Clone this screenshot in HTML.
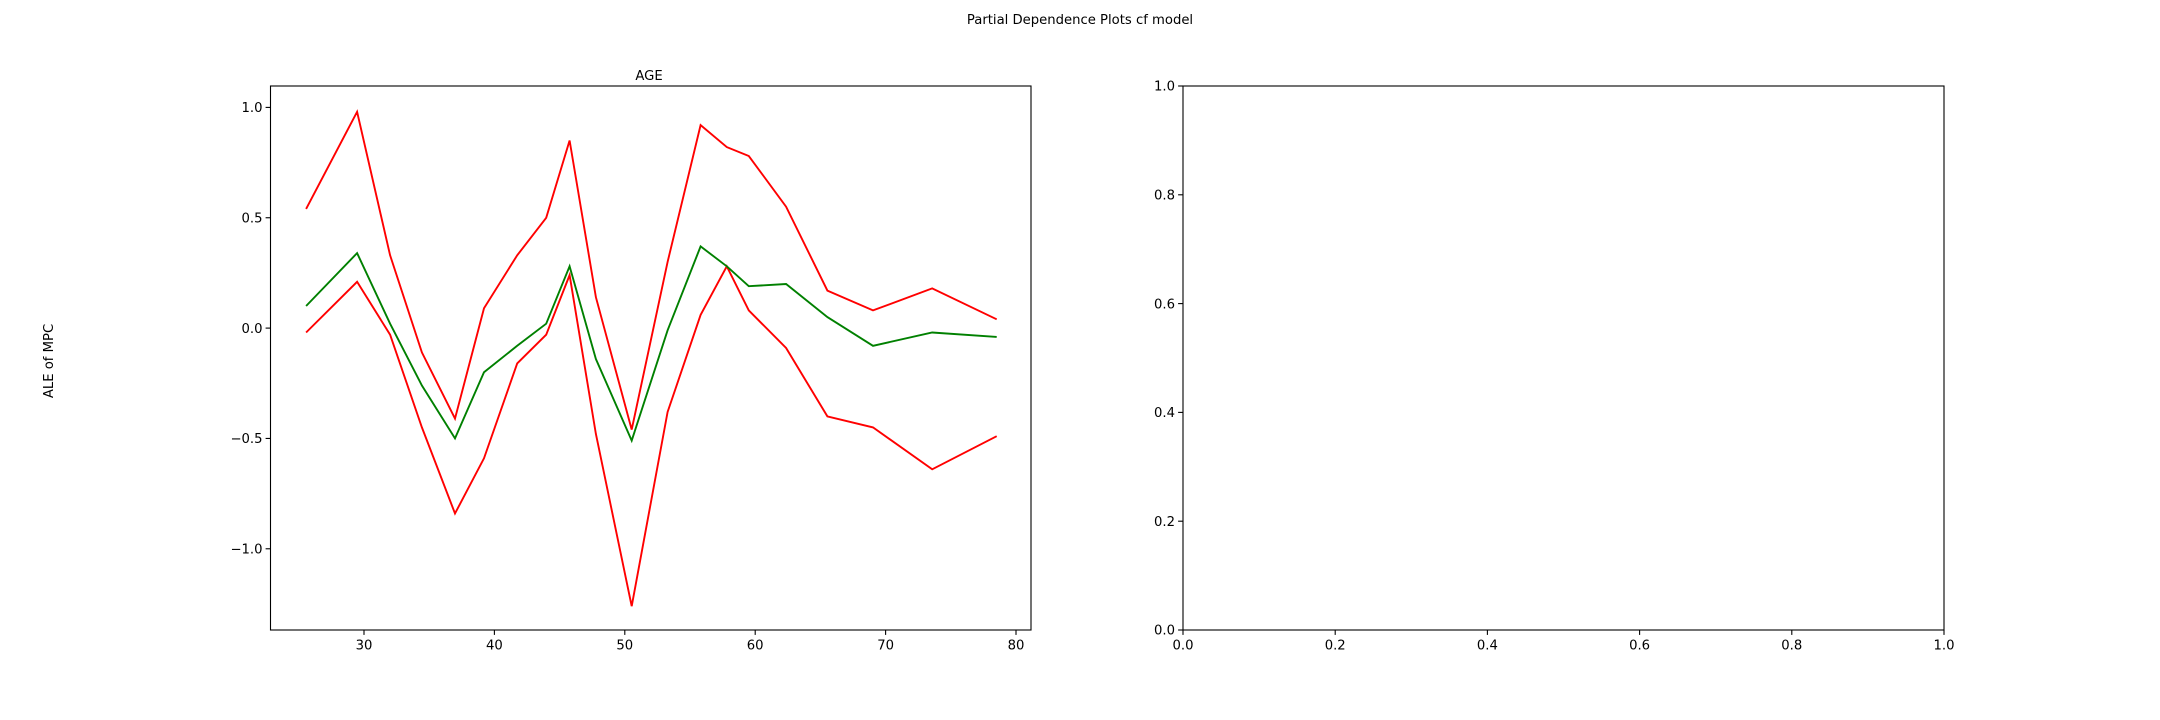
<!DOCTYPE html>
<html><head><meta charset="utf-8"><style>
html,body{margin:0;padding:0;background:#fff;}
svg{display:block;font-family:"DejaVu Sans","Liberation Sans",sans-serif;}
</style></head><body>
<svg id="fig" width="2160" height="720" viewBox="0 0 2160 720" xmlns="http://www.w3.org/2000/svg">
<rect width="2160" height="720" fill="#fff"/>
<text x="1080" y="24" text-anchor="middle" font-size="13.2">Partial Dependence Plots cf model</text>
<text x="649" y="80" text-anchor="middle" font-size="13.2">AGE</text>
<text transform="translate(53,361) rotate(-90)" text-anchor="middle" font-size="13.2">ALE of MPC</text>
<g id="left"></g>
<g id="right"></g>
</svg>
<script>
const ageX = [25.56,29.47,32.0,34.44,36.98,39.2,41.75,43.97,45.77,47.78,50.53,53.28,55.81,57.82,59.51,62.37,65.54,69.03,73.57,78.52];
const upperCI = [0.54,0.98,0.33,-0.11,-0.41,0.09,0.33,0.50,0.85,0.14,-0.46,0.30,0.92,0.82,0.78,0.55,0.17,0.08,0.18,0.04];
const aleMean = [0.10,0.34,0.02,-0.26,-0.50,-0.20,-0.08,0.02,0.28,-0.14,-0.51,-0.01,0.37,0.28,0.19,0.20,0.05,-0.08,-0.02,-0.04];
const lowerCI = [-0.02,0.21,-0.03,-0.45,-0.84,-0.59,-0.16,-0.03,0.24,-0.48,-1.26,-0.38,0.06,0.28,0.08,-0.09,-0.40,-0.45,-0.64,-0.49];
const leftXTicks = [30,40,50,60,70,80];
const leftYTicks = [1.0,0.5,0.0,-0.5,-1.0];
const leftYTickLabels = ["1.0","0.5","0.0","\u22120.5","\u22121.0"];
const rightTicks = [0.0,0.2,0.4,0.6,0.8,1.0];
const rightTickLabels = ["0.0","0.2","0.4","0.6","0.8","1.0"];

const NS="http://www.w3.org/2000/svg";
function mk(tag,attrs,parent){const e=document.createElementNS(NS,tag);for(const k in attrs)e.setAttribute(k,attrs[k]);parent.appendChild(e);return e;}

const FS=13.2;
const L={x0:270.5,x1:1031,y0:86,y1:630,xmin:22.83,xmax:81.15,ymin:-1.368,ymax:1.097};
const lx=v=>L.x0+(v-L.xmin)/(L.xmax-L.xmin)*(L.x1-L.x0);
const ly=v=>L.y1-(v-L.ymin)/(L.ymax-L.ymin)*(L.y1-L.y0);
const lg=document.getElementById('left');
function series(vals,color,name){
  const p=mk('polyline',{points:vals.map((v,i)=>lx(ageX[i]).toFixed(1)+','+ly(v).toFixed(1)).join(' '),fill:'none',stroke:color,'stroke-width':1.9,'stroke-linejoin':'miter'},lg);
  
  
}
series(upperCI,'#ff0000','upper-ci-line');
series(lowerCI,'#ff0000','lower-ci-line');
series(aleMean,'#008000','ale-mean-line');
const lf=mk('rect',{x:L.x0,y:L.y0,width:L.x1-L.x0,height:L.y1-L.y0,fill:'none',stroke:'#000','stroke-width':1.1},lg);


leftXTicks.forEach(t=>{
  const x=lx(t);
  const tk=mk('line',{x1:x,x2:x,y1:L.y1,y2:L.y1+4.9,stroke:'#000','stroke-width':1.1},lg);
  
  
  const tx=mk('text',{x:x,y:L.y1+19.5,'text-anchor':'middle','font-size':FS},lg);
  
  
  tx.textContent=t;
});
leftYTicks.forEach((t,i)=>{
  const y=ly(t);
  const tk=mk('line',{x1:L.x0-4.9,x2:L.x0,y1:y,y2:y,stroke:'#000','stroke-width':1.1},lg);
  
  
  const tx=mk('text',{x:L.x0-8,y:y+4.7,'text-anchor':'end','font-size':FS},lg);
  
  
  tx.textContent=leftYTickLabels[i];
});

const R={x0:1183,x1:1944,y0:86,y1:630};
const rg=document.getElementById('right');
const rf=mk('rect',{x:R.x0,y:R.y0,width:R.x1-R.x0,height:R.y1-R.y0,fill:'none',stroke:'#000','stroke-width':1.1},rg);


rightTicks.forEach((t,i)=>{
  const x=R.x0+t*(R.x1-R.x0), y=R.y1-t*(R.y1-R.y0);
  const a=mk('line',{x1:x,x2:x,y1:R.y1,y2:R.y1+4.9,stroke:'#000','stroke-width':1.1},rg);
  
  
  const at=mk('text',{x:x,y:R.y1+19.5,'text-anchor':'middle','font-size':FS},rg);
  
  
  at.textContent=rightTickLabels[i];
  const b=mk('line',{x1:R.x0-4.9,x2:R.x0,y1:y,y2:y,stroke:'#000','stroke-width':1.1},rg);
  
  
  const bt=mk('text',{x:R.x0-8,y:y+4.7,'text-anchor':'end','font-size':FS},rg);
  
  
  bt.textContent=rightTickLabels[i];
});
</script>
</body></html>
